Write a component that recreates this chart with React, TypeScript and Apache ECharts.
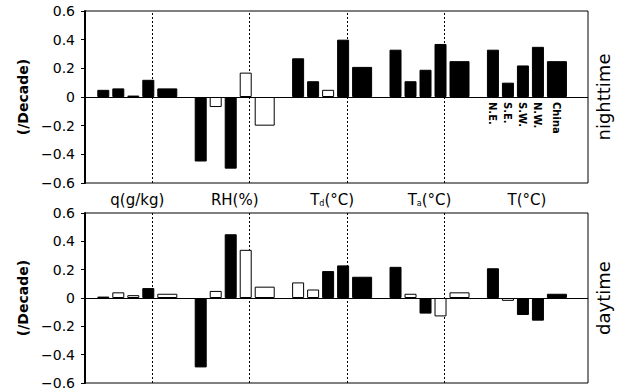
import React, { useEffect, useRef } from 'react';
import * as echarts from 'echarts';

// Group (variable) labels along the x axis; {s|..} marks a subscript
const groupLabels = ['q(g/kg)', 'RH(%)', 'T{s|d}(°C)', 'T{s|a}(°C)', 'T(°C)'];
const regions = ['N.E.', 'S.E.', 'S.W.', 'N.W.', 'China'];

// Nighttime trends (/decade), one row per region, one value per group
const nightNE = [0.05, -0.45, 0.27, 0.33, 0.33];
const nightSE = [0.06, -0.07, 0.11, 0.11, 0.10];
const nightSW = [0.01, -0.50, 0.05, 0.19, 0.22];
const nightNW = [0.12, 0.17, 0.40, 0.37, 0.35];
const nightChina = [0.06, -0.20, 0.21, 0.25, 0.25];
// significance (1 = filled bar)
const nightSigNE = [1, 1, 1, 1, 1];
const nightSigSE = [1, 0, 1, 1, 1];
const nightSigSW = [0, 1, 0, 1, 1];
const nightSigNW = [1, 0, 1, 1, 1];
const nightSigChina = [1, 0, 1, 1, 1];

// Daytime trends (/decade)
const dayNE = [0.01, -0.49, 0.11, 0.22, 0.21];
const daySE = [0.04, 0.05, 0.06, 0.03, -0.02];
const daySW = [0.02, 0.45, 0.19, -0.11, -0.12];
const dayNW = [0.07, 0.34, 0.23, -0.13, -0.16];
const dayChina = [0.03, 0.08, 0.15, 0.04, 0.03];
const daySigNE = [1, 1, 0, 1, 1];
const daySigSE = [0, 0, 0, 0, 0];
const daySigSW = [0, 1, 1, 1, 1];
const daySigNW = [1, 0, 1, 0, 1];
const daySigChina = [0, 0, 1, 0, 1];

const yMin = -0.6;
const yMax = 0.6;
const yStep = 0.2;
const dividers = [1, 2, 3, 4];
const panelNames = ['nighttime', 'daytime'];
const yAxisTitle = '(/Decade)';

const FONT = 'DejaVu Sans';

function fmtY(v: number) {
  if (Math.abs(v) < 1e-9) return '0';
  return (v < 0 ? '\u2212' : '') + Math.abs(v).toFixed(1);
}

function buildSeries(values: number[][], sig: number[][], idx: number, withLabels: boolean) {
  return regions.map((r, ri) => ({
    type: 'bar',
    name: r + '-' + idx,
    xAxisIndex: idx,
    yAxisIndex: idx,
    barWidth: ri === 4 ? 20 : 12,
    barGap: '25%',
    z: 3,
    data: values[ri].map((v, gi) => ({
      value: [gi + 0.5, v],
      itemStyle: {
        color: sig[ri][gi] ? '#000' : '#fff',
        borderColor: '#000',
        borderWidth: 1,
      },
      label:
        withLabels && gi === 4
          ? {
              show: true,
              formatter: r,
              position: 'bottom',
              distance: 5,
              rotate: -90,
              align: 'left',
              verticalAlign: 'middle',
              fontSize: 10,
              fontWeight: 'bold',
              fontFamily: FONT,
              color: '#000',
            }
          : { show: false },
    })),
    markLine:
      ri === 0
        ? {
            silent: true,
            symbol: ['none', 'none'],
            label: { show: false },
            z: 1,
            data: [
              ...dividers.map((d) => ({
                xAxis: d,
                lineStyle: { type: [2, 2], color: '#000', width: 1 },
              })),
              { yAxis: 0, lineStyle: { type: 'solid', color: '#000', width: 1 } },
            ],
          }
        : undefined,
  }));
}

export default function App() {
  const ref = useRef<HTMLDivElement>(null);
  useEffect(() => {
    if (!ref.current) return;
    const chart = echarts.init(ref.current, undefined, { renderer: 'svg' });
    const grids = [
      { left: 85, right: 33, top: 11, height: 172 },
      { left: 85, right: 33, top: 213, height: 170 },
    ].map((g) => ({ ...g, show: true, borderColor: '#000', borderWidth: 1, backgroundColor: 'transparent' }));

    const xAxes = [0, 1].map((i) => ({
      type: 'value',
      gridIndex: i,
      min: -0.037,
      max: 5.127,
      axisLine: { show: false, onZero: false },
      axisTick: { show: false },
      splitLine: { show: false },
      axisLabel: {
        show: i === 0,
        customValues: [0.5, 1.5, 2.5, 3.5, 4.5],
        formatter: (v: number) => groupLabels[Math.round(v - 0.5)] ?? '',
        color: '#000',
        fontSize: 15,
        fontFamily: FONT,
        margin: 9,
        rich: {
          s: { fontSize: 8, fontFamily: FONT, color: '#000', verticalAlign: 'bottom', padding: [6, 0, 0, 0] },
        },
      },
    }));

    const yAxes = [0, 1].map((i) => ({
      type: 'value',
      gridIndex: i,
      min: yMin,
      max: yMax,
      interval: yStep,
      name: yAxisTitle,
      nameLocation: 'middle',
      nameRotate: 90,
      nameGap: 50,
      nameTextStyle: { fontSize: 14, fontWeight: 'bold', fontFamily: FONT, color: '#000' },
      axisLine: { show: true, onZero: false, lineStyle: { color: '#000', width: 2 } },
      axisTick: { show: true, inside: false, length: 4, lineStyle: { color: '#000' } },
      splitLine: { show: false },
      axisLabel: { formatter: fmtY, color: '#000', fontSize: 14, fontFamily: FONT, margin: 10 },
    }));

    const night = [nightNE, nightSE, nightSW, nightNW, nightChina];
    const nightSig = [nightSigNE, nightSigSE, nightSigSW, nightSigNW, nightSigChina];
    const day = [dayNE, daySE, daySW, dayNW, dayChina];
    const daySig = [daySigNE, daySigSE, daySigSW, daySigNW, daySigChina];

    chart.setOption({
      animation: false,
      backgroundColor: '#fff',
      grid: grids,
      xAxis: xAxes,
      yAxis: yAxes,
      graphic: [
        {
          type: 'text',
          x: 603,
          y: 97,
          rotation: Math.PI / 2,
          style: { text: panelNames[0], fontSize: 18, fontFamily: FONT, fill: '#000', align: 'center', verticalAlign: 'middle' },
        },
        {
          type: 'text',
          x: 603,
          y: 298,
          rotation: Math.PI / 2,
          style: { text: panelNames[1], fontSize: 18, fontFamily: FONT, fill: '#000', align: 'center', verticalAlign: 'middle' },
        },
      ],
      series: [...buildSeries(night, nightSig, 0, true), ...buildSeries(day, daySig, 1, false)],
    });
    return () => chart.dispose();
  }, []);
  return <div ref={ref} style={{ position: 'fixed', left: 0, top: 0, width: 621, height: 390 }} />;
}
